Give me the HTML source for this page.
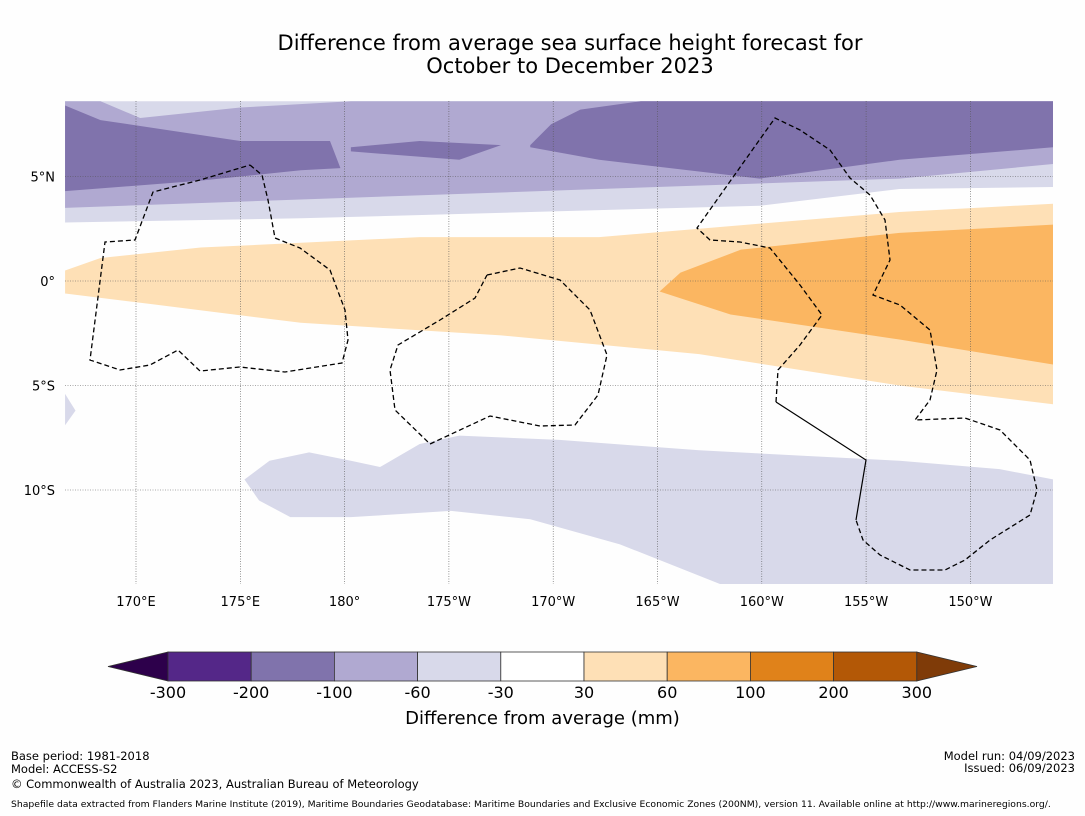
<!DOCTYPE html>
<html><head><meta charset="utf-8"><style>
body{margin:0;background:#fefefe;font-family:"Liberation Sans","DejaVu Sans",sans-serif;}
#wrap{position:relative;width:1085px;height:816px;overflow:hidden;background:#fefefe}
.t{position:absolute;color:#000;white-space:nowrap}
</style></head><body>
<div id="wrap">
<div class="t" style="left:0;width:1140px;top:32px;text-align:center;font-size:21px;line-height:23px;font-family:'DejaVu Sans',sans-serif">Difference from average sea surface height forecast for<br>October to December 2023</div>
<svg id="map" width="1085" height="816" style="position:absolute;left:0;top:0"></svg>
<div class="t" style="left:0;width:1085px;top:708px;text-align:center;font-size:18px;font-family:'DejaVu Sans',sans-serif">Difference from average (mm)</div>
<div class="t" style="left:11px;top:749px;font-size:11.5px;font-family:'DejaVu Sans',sans-serif">Base period: 1981-2018</div>
<div class="t" style="left:11px;top:762px;font-size:11.5px;font-family:'DejaVu Sans',sans-serif">Model: ACCESS-S2</div>
<div class="t" style="left:11px;top:777px;font-size:11.5px;font-family:'DejaVu Sans',sans-serif">© Commonwealth of Australia 2023, Australian Bureau of Meteorology</div>
<div class="t" style="right:10px;top:749px;font-size:11.5px;text-align:right;font-family:'DejaVu Sans',sans-serif">Model run: 04/09/2023</div>
<div class="t" style="right:10px;top:761px;font-size:11.5px;text-align:right;font-family:'DejaVu Sans',sans-serif">Issued: 06/09/2023</div>
<div class="t" style="left:11px;top:799px;font-size:9.25px;font-family:'DejaVu Sans',sans-serif">Shapefile data extracted from Flanders Marine Institute (2019), Maritime Boundaries Geodatabase: Maritime Boundaries and Exclusive Economic Zones (200NM), version 11. Available online at http://www.marineregions.org/.</div>
</div>
<script>
const lonTicks=[170,175,180,185,190,195,200,205,210];
const lonLabels=["170°E","175°E","180°","175°W","170°W","165°W","160°W","155°W","150°W"];
const latTicks=[5,0,-5,-10];
const latLabels=["5°N","0°","5°S","10°S"];
const cbLevels=["-300","-200","-100","-60","-30","30","60","100","200","300"];
const cbColors=["#542788","#8073ac","#b0a9d1","#d8d9ea","#ffffff","#fee0b6","#fbb661","#e0821a","#b35806"];
const bandLight=[[166.6,8.6],[214,8.6],[214,4.5],[206.6,4.4],[199.9,3.6],[177.9,3.0],[166.6,2.8]];
const bandMed=[[166.6,8.6],[168.3,8.6],[170.2,7.8],[175,8.3],[180.3,8.6],[214,8.6],[214,5.6],[206.6,4.9],[192.2,4.4],[177.9,3.9],[166.6,3.5]];
const bandDarkW=[[166.6,8.4],[168.3,7.7],[175,6.7],[179.3,6.7],[179.8,5.4],[177.9,5.3],[173.1,4.8],[166.6,4.3]];
const bandDarkM=[[180.3,6.4],[183.6,6.7],[187.5,6.5],[185.5,5.8],[180.3,6.2]];
const bandDarkE=[[188.9,6.5],[189.9,7.5],[191.3,8.2],[194.2,8.6],[214,8.6],[214,6.4],[206.6,5.8],[199.9,4.9],[192.2,5.8],[188.9,6.4]];
const bandOr1=[[166.6,0.5],[168.3,1.1],[173.1,1.6],[183.6,2.1],[192.2,2.1],[197,2.5],[206.6,3.3],[214,3.7],[214,-5.9],[206.6,-5],[197,-3.5],[187.5,-2.6],[177.9,-2],[170.7,-1.1],[166.6,-0.6]];
const bandOr2=[[195.1,-0.5],[196.1,0.4],[199,1.5],[206.6,2.3],[214,2.7],[214,-4],[206.6,-2.8],[198.5,-1.6],[195.1,-0.5]];
const bandSouth=[[175.2,-9.5],[176.4,-8.6],[178.3,-8.2],[180.3,-8.6],[181.7,-8.9],[183.6,-7.8],[185.5,-7.4],[190.3,-7.6],[197,-8.1],[206.6,-8.6],[211.4,-9],[214,-9.5],[214,-14.5],[198,-14.5],[193.2,-12.6],[188.9,-11.4],[185.1,-11],[180.3,-11.3],[177.4,-11.3],[175.9,-10.5]];
const bandSouthW=[[166.6,-5.4],[167.1,-6.2],[166.6,-6.9]];

const svg=document.getElementById('map');const NS='http://www.w3.org/2000/svg';
const X=lon=>136+(lon-170)*20.86;
const Y=lat=>281-lat*20.9;
function mk(tag,attrs){const e=document.createElementNS(NS,tag);for(const k in attrs)e.setAttribute(k,attrs[k]);svg.appendChild(e);return e;}
const cp=mk('clipPath',{id:'mc'});const cr=document.createElementNS(NS,'rect');cr.setAttribute('x',65);cr.setAttribute('y',101);cr.setAttribute('width',988);cr.setAttribute('height',483);cp.appendChild(cr);
const g=mk('g',{'clip-path':'url(#mc)'});
function band(pts,color,name){const p=document.createElementNS(NS,'polygon');p.setAttribute('points',pts.map(q=>X(q[0])+','+Y(q[1])).join(' '));p.setAttribute('fill',color);


g.appendChild(p);}
band(bandLight,cbColors[3],'contour-neg30-60');
band(bandMed,cbColors[2],'contour-neg60-100');
band(bandDarkW,cbColors[1],'contour-neg100-200-west');
band(bandDarkM,cbColors[1],'contour-neg100-200-mid');
band(bandDarkE,cbColors[1],'contour-neg100-200-east');
band(bandOr1,cbColors[5],'contour-30-60');
band(bandOr2,cbColors[6],'contour-60-100');
band(bandSouth,cbColors[3],'contour-south-neg30-60');
band(bandSouthW,cbColors[3],'contour-southwest-neg30-60');
lonTicks.forEach((l,i)=>{const ln=document.createElementNS(NS,'line');ln.setAttribute('x1',X(l));ln.setAttribute('x2',X(l));ln.setAttribute('y1',101);ln.setAttribute('y2',584);ln.setAttribute('stroke','#555');ln.setAttribute('stroke-width','0.6');ln.setAttribute('stroke-dasharray','1,1.5');


g.appendChild(ln);
const t=mk('text',{x:X(l),y:606,'text-anchor':'middle','font-size':13,'font-family':'DejaVu Sans, sans-serif'});t.textContent=lonLabels[i];

});
latTicks.forEach((l,i)=>{const ln=document.createElementNS(NS,'line');ln.setAttribute('x1',65);ln.setAttribute('x2',1053);ln.setAttribute('y1',Y(l));ln.setAttribute('y2',Y(l));ln.setAttribute('stroke','#555');ln.setAttribute('stroke-width','0.6');ln.setAttribute('stroke-dasharray','1,1.5');


g.appendChild(ln);
const t=mk('text',{x:55,y:Y(l)+5,'text-anchor':'end','font-size':13,'font-family':'DejaVu Sans, sans-serif'});t.textContent=latLabels[i];

});
const eez=[
"M250,165 262,175 268,200 275,238 300,248 330,270 345,310 348,340 342,363 285,372 240,367 200,371 178,350 150,365 120,370 90,360 105,242 135,240 153,192 200,180 250,165",
"M487,275 520,268 560,280 590,310 607,355 598,395 575,425 540,426 490,416 430,444 395,410 390,370 398,345 440,320 475,298 487,275",
"M776,402 778,370 800,345 822,315 800,285 770,248 740,242 710,240 697,228 775,118 800,130 830,150 850,178 870,195 885,220 890,260 873,295 900,305 930,330 937,370 930,400 915,420 965,418 1000,430 1030,460 1037,490 1030,515 990,540 965,560 945,570 910,570 880,555 863,540 856,520"];
eez.forEach(d=>{const p=document.createElementNS(NS,'path');p.setAttribute('d',d);p.setAttribute('fill','none');p.setAttribute('stroke','#000');p.setAttribute('stroke-width','1.3');p.setAttribute('stroke-dasharray','5,3');


g.appendChild(p);});
const sl=document.createElementNS(NS,'path');sl.setAttribute('d','M776,402 866,460 856,520');sl.setAttribute('fill','none');sl.setAttribute('stroke','#000');sl.setAttribute('stroke-width','1.2');


g.appendChild(sl);
const cbx0=168,cbw=83.2,cby=652,cbh=29;
const lt=mk('polygon',{points:`108,${cby+cbh/2} ${cbx0},${cby} ${cbx0},${cby+cbh}`,fill:'#2d004b',stroke:'#333','stroke-width':0.8});


cbColors.forEach((c,i)=>{const r=mk('rect',{x:cbx0+i*cbw,y:cby,width:cbw,height:cbh,fill:c,stroke:'#333','stroke-width':0.8});

});
const rt=mk('polygon',{points:`${cbx0+9*cbw},${cby} 977,${cby+cbh/2} ${cbx0+9*cbw},${cby+cbh}`,fill:'#7f3b08',stroke:'#333','stroke-width':0.8});


cbLevels.forEach((l,i)=>{const t=mk('text',{x:cbx0+i*cbw,y:698,'text-anchor':'middle','font-size':16,'font-family':'DejaVu Sans, sans-serif'});t.textContent=l;

});
</script>
</body></html>
